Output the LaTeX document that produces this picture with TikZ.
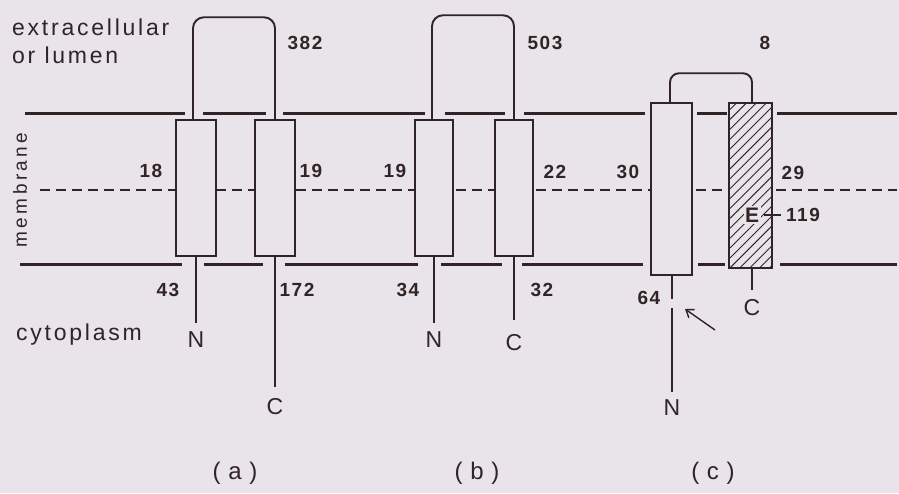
\documentclass[tikz,border=0pt]{standalone}
\usepackage{fontspec}
\setmainfont{Liberation Sans}
\usetikzlibrary{arrows.meta,patterns.meta,calc}
\definecolor{paper}{RGB}{232,228,233}
\definecolor{ink}{RGB}{50,36,36}
\begin{document}
\begin{tikzpicture}[x=1pt,y=-1pt,
  every node/.style={text=ink},
  memb/.style={draw=ink,line width=3pt},
  tm/.style={draw=ink,line width=1.5pt,fill=paper,inner sep=0pt},
  tmhatch/.style={draw=ink,line width=1.5pt,inner sep=0pt,preaction={fill=paper},
     pattern={Lines[angle=45,distance=7pt,line width=0.9pt]},pattern color=ink},
  loopln/.style={draw=ink,line width=1.9pt,rounded corners=11pt},
  tail/.style={draw=ink,line width=1.7pt},
  num/.style={font=\fontsize{19}{19}\selectfont\bfseries\addfontfeatures{LetterSpace=8},inner sep=0pt},
  term/.style={font=\fontsize{23}{23}\selectfont,inner sep=0pt},
  panel/.style={font=\fontsize{24}{24}\selectfont\addfontfeatures{LetterSpace=32},inner sep=0pt},
  region/.style={font=\fontsize{23}{23}\selectfont\addfontfeatures{LetterSpace=12},inner sep=0pt,anchor=base west},
]
\fill[paper] (0,0) rectangle (899,493);
\useasboundingbox (0,0) rectangle (899,493);

% mid-membrane dashed line
\draw[ink,line width=1.3pt,dash pattern=on 10pt off 6pt] (40,190) -- (897,190);

% membrane boundaries
\foreach \a/\b in {25/185,203/266,283/425,445/505,524/645,697/727,777/897}
  \draw[memb] (\a,113) -- (\b,113);
\foreach \a/\b in {20/182,204/263,285/418,441/502,522/643,698/725,780/897}
  \draw[memb] (\a,264) -- (\b,264);

% transmembrane segments
\node[tm,minimum width=40pt,minimum height=136pt] (a1) at (196,188) {};
\node[tm,minimum width=40pt,minimum height=136pt] (a2) at (275,188) {};
\node[tm,minimum width=38pt,minimum height=136pt] (b1) at (434,188) {};
\node[tm,minimum width=38pt,minimum height=136pt] (b2) at (514,188) {};
\node[tm,minimum width=41pt,minimum height=172pt] (c1) at (671.5,189) {};
\node[tmhatch,minimum width=43pt,minimum height=165pt] (c2) at (750.5,185.5) {};

% loops
\draw[loopln] ([xshift=-3pt]a1.north) -- ++(0,-102) -| (a2.north);
\draw[loopln] ([xshift=-2pt]b1.north) -- ++(0,-104) -| (b2.north);
\draw[loopln,rounded corners=9pt] ([xshift=-1.5pt]c1.north) -- ++(0,-29) -| ([xshift=1.5pt]c2.north);

% termini
\node[term] (Na) at (196,340) {N};
\node[term] (Ca) at (275,407) {C};
\node[term] (Nb) at (434,340) {N};
\node[term] (Cb) at (514,343) {C};
\node[term] (Nc) at (672,408) {N};
\node[term] (Cc) at (752,308) {C};
\draw[tail,shorten >=9pt] (a1.south) -- (Na);
\draw[tail,shorten >=12pt] (a2.south) -- (Ca);
\draw[tail,shorten >=9pt] (b1.south) -- (Nb);
\draw[tail,shorten >=15pt] (b2.south) -- (Cb);
\coordinate (cgapT) at (672,299);
\coordinate (cgapB) at (672,308);
\draw[tail] ([xshift=0.5pt]c1.south) -- (cgapT);
\draw[tail,shorten >=8pt] (cgapB) -- (Nc);
\draw[tail,shorten >=10pt] ([xshift=1.5pt]c2.south) -- (Cc);

% cleavage arrow
\coordinate (arrT) at (715,330);
\coordinate (arrH) at (685,309);
\draw[ink,line width=1.4pt,-{Straight Barb[length=7pt,width=10pt]}] (arrT) -- (arrH);

% E-119 marker
\node[term,fill=paper,inner sep=1.5pt,font=\fontsize{21}{21}\selectfont\bfseries] (E) at (752,215) {E};
\node[num] (n119) at (803,215) {119};
\draw[ink,line width=1.5pt] ([xshift=-5pt]n119.west) -- ++(-17,0);

% residue counts
\node[num] (l382) at (305,43) {382};
\node[num] (l503) at (545,43) {503};
\node[num] (l8) at (765,43) {8};
\node[num] (l18) at (151,171) {18};
\node[num] (l19a) at (311,171) {19};
\node[num] (l19b) at (395,171) {19};
\node[num] (l22) at (555,172) {22};
\node[num] (l30) at (628,172) {30};
\node[num] (l29) at (793,173) {29};
\node[num] (l43) at (168,290) {43};
\node[num] (l172) at (297,290) {172};
\node[num] (l34) at (408,290) {34};
\node[num] (l32) at (542,290) {32};
\node[num] (l64) at (649,298) {64};

% region labels
\node[region] (ext) at (12,35) {extracellular};
\node[region] (lum) at (12,63) {or lumen};
\node[region] (cyto) at (16,340) {cytoplasm};
\node[font=\fontsize{19}{19}\selectfont\addfontfeatures{LetterSpace=18},inner sep=0pt,rotate=90] (mem) at (20,190) {membrane};

% panel labels
\node[panel] (pa) at (235,473) {(a)};
\node[panel] (pb) at (477,473) {(b)};
\node[panel] (pc) at (713,473) {(c)};
\end{tikzpicture}
\end{document}
